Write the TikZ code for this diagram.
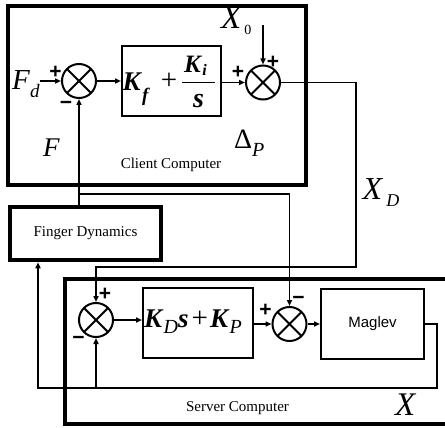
\documentclass[tikz,border=0pt]{standalone}
\usepackage{fontspec}
\setmainfont{Liberation Serif}
\newfontfamily\maglevfont{Liberation Sans}
\usetikzlibrary{arrows.meta}
\newcommand{\bfi}[1]{\textbf{\textit{#1}}}
\newcommand{\fs}[1]{\fontsize{#1}{#1}\selectfont}
\newcommand{\lowr}[2]{\raisebox{-#1}{#2}}
\begin{document}
\begin{tikzpicture}[x=1pt,y=-1pt,
  conn/.style={line width=1.5pt},
  arr/.style={conn,-{Triangle[length=6pt,width=5pt]}},
  sumnode/.style={circle,draw,line width=2pt,minimum size=34pt,inner sep=0pt,
    path picture={\draw[line width=2pt] (path picture bounding box.north west)--(path picture bounding box.south east) (path picture bounding box.north east)--(path picture bounding box.south west);}},
  blk/.style={draw,line width=2pt,inner sep=0pt},
  frame/.style={draw,line width=4.5pt},
  lbl/.style={inner sep=0pt,anchor=base west},
  sgn/.style={inner sep=0pt,anchor=base,font=\maglevfont\fs{21}\bfseries},
  capt/.style={inner sep=0pt,anchor=base,font=\fs{15}},
]
\useasboundingbox (0,0) rectangle (445,428);
\fill[white] (0,0) rectangle (445,428);

% frames
\draw[frame] (8,6) rectangle (306,185);
\draw[frame] (65,279) rectangle (447,424);
\node[frame,minimum width=151pt,minimum height=53pt,inner sep=0pt,font=\fs{15}] (fd) at (85.5,233.5) {Finger Dynamics};

% summing junctions
\node[sumnode] (s1) at (79,81) {};
\node[sumnode] (s2) at (263,82.5) {};
\node[sumnode] (s3) at (96,320) {};
\node[sumnode] (s4) at (289.5,324) {};

% blocks
\node[blk,minimum width=99pt,minimum height=69.5pt] (b1) at (171.5,81) {};
\node[blk,minimum width=110pt,minimum height=70pt] (b2) at (198,323) {};
\node[blk,minimum width=103pt,minimum height=70pt,font=\maglevfont\fs{15}] (mag) at (372.5,324) {Maglev};

% block 1 contents
\node[lbl,font=\fs{27}] (kf) at (122.5,91) {\bfi{K}\lowr{11pt}{\fs{19}\bfi{f}}};
\node[lbl,anchor=base,font=\fs{29}] (plus1) at (169,89.5) {+};
\node[lbl,font=\fs{25}] (ki) at (184,73) {\bfi{K}\lowr{3pt}{\fs{16}\bfi{i}}};
\node[lbl,anchor=base,font=\fs{28}] (sden) at (198.5,108) {\bfi{s}};
\draw[line width=1pt] (182,82.5) -- (215,82.5);

% block 2 contents
\node[lbl,font=\fs{27}] (kd) at (144,327.5) {\bfi{K}\lowr{5.5pt}{\fs{20}\textit{D}}\bfi{s}\hspace{3pt}{\fs{29}+}\hspace{2pt}\bfi{K}\lowr{5.5pt}{\fs{20}\textit{P}}};

% labels
\node[lbl,font=\fs{29}] (fdl) at (12,90) {\textit{F}\lowr{8pt}{\fs{19}\textit{d}}};
\node[lbl,font=\fs{27}] (fl) at (43,157) {\textit{F}};
\node[lbl,font=\fs{33}] (x0l) at (221,28.3) {\textit{X}\kern2pt\lowr{6.5pt}{\fs{14}0}};
\node[lbl,font=\fs{28}] (dpl) at (234,148.5) {Δ\lowr{8pt}{\fs{20}\textit{P}}};
\node[lbl,font=\fs{32}] (xdl) at (362.5,199.3) {\textit{X}\kern3pt\lowr{6.7pt}{\fs{18}\textit{D}}};
\node[lbl,font=\fs{33}] (xl) at (395,415) {\textit{X}};
\node[capt] (cc) at (171,168) {Client Computer};
\node[capt] (sc) at (237.5,411.5) {Server Computer};

% signs
\node[sgn] (p1) at (55.5,79) {+};
\node[sgn] (m1) at (66,109.5) {−};
\node[sgn] (p2) at (238,78.5) {+};
\node[sgn] (p3) at (273,68.5) {+};
\node[sgn] (p4) at (105,300.5) {+};
\node[sgn] (m4) at (78.5,344) {−};
\node[sgn] (p5) at (265.5,316) {+};
\node[sgn] (m5) at (298.5,304) {−};

% connectors
\coordinate (x0top) at (263,25);
\coordinate (c1) at (356,267);
\coordinate (j1) at (79,194);
\coordinate (c2) at (437,388);
\coordinate (c3) at (38,388);

\draw[arr] (fdl.east |- s1.west) -- (s1.west);
\draw[arr] (s1.east) -- (s1.east -| b1.west);
\draw[arr] (b1.east |- s2.west) -- (s2.west);
\draw[arr] (x0top) -- (s2.north);
\draw[arr] (s2.east) -| (c1) -| (s3.north);
\draw[arr] (fd.north -| s1.south) -- (s1.south);
\draw[arr] (j1) -| (s4.north);
\draw[arr] (s3.east) -- (s3.east -| b2.west);
\draw[arr] (b2.east |- s4.west) -- (s4.west);
\draw[arr] (s4.east) -- (s4.east -| mag.west);
\draw[arr] (mag.east) -| (c2) -- (c3) -- (c3 |- fd.south);
\draw[arr] (s3.south |- c2) -- (s3.south);
\end{tikzpicture}
\end{document}
